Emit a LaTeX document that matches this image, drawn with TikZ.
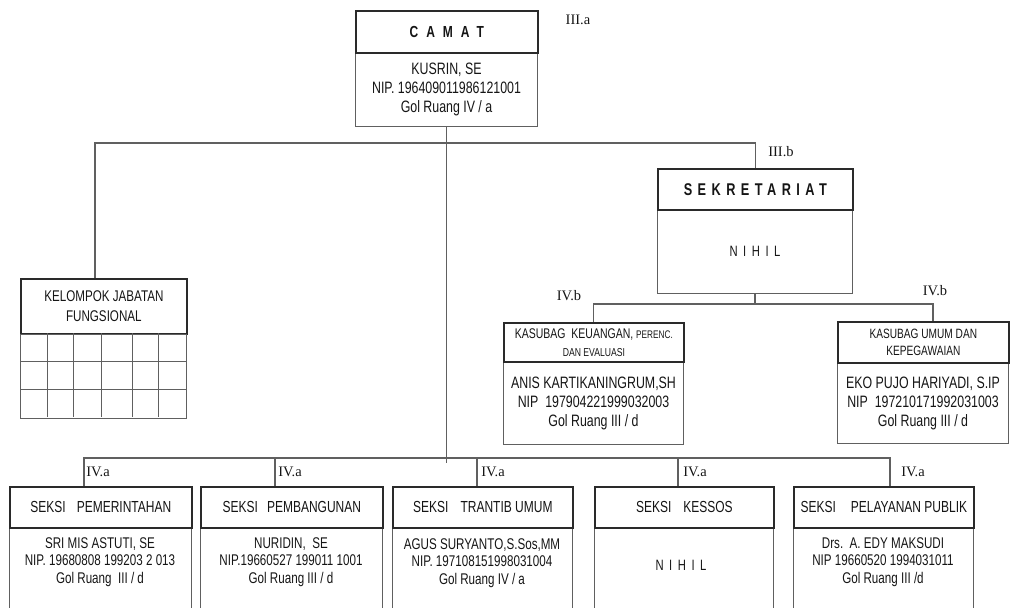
\documentclass[tikz,border=0pt]{standalone}
\usepackage{fontspec}
\setmainfont[FakeStretch=0.75]{Liberation Sans}
\newfontfamily\romfont{Liberation Serif}
\definecolor{ink}{HTML}{151515}
\definecolor{edge}{HTML}{2A2A2A}
\definecolor{soft}{HTML}{606060}
\begin{document}
\begin{tikzpicture}[x=1pt,y=-1pt,
  ttl/.style={draw=edge, line width=1.7pt, inner sep=0pt, anchor=north west, align=center, text=ink},
  cnt/.style={draw=soft, line width=1pt, inner sep=0pt, anchor=north west, align=center, text=ink},
  txt/.style={inner sep=0pt, align=center, text=ink},
  lvl/.style={inner sep=0pt, text=ink, font=\romfont\fontsize{14.5}{16}\selectfont},
  conn/.style={draw=soft, line width=1.1pt},
  gridln/.style={draw=soft, line width=1pt},
  big/.style={font=\fontsize{16.5}{19}\selectfont},
  mid/.style={font=\fontsize{15.5}{17.5}\selectfont},
  tt/.style={font=\fontsize{16}{19}\selectfont}]
\useasboundingbox (0,0) rectangle (1013,608);

% CAMAT
\node[cnt, big, minimum width=182, minimum height=74] (camatC) at (355,52)
  {KUSRIN, SE\\NIP. 196409011986121001\\Gol Ruang IV / a};
\node[ttl, minimum width=182, minimum height=42, font=\bfseries\fontsize{16}{19}\selectfont] (camatT) at (355,10)
  {\addfontfeature{LetterSpace=50}CAMAT};
\node[lvl] (l3a) at (578,20) {III.a};

% SEKRETARIAT
\node[cnt, minimum width=195, minimum height=84, font=\fontsize{15}{18}\selectfont] (sekC) at (657,209)
  {\addfontfeature{LetterSpace=37}NIHIL};
\node[ttl, minimum width=195, minimum height=41, font=\bfseries\fontsize{17}{19}\selectfont] (sekT) at (657,168)
  {\addfontfeature{LetterSpace=32}SEKRETARIAT};
\node[lvl] (l3b) at (781,152) {III.b};

% KELOMPOK JABATAN FUNGSIONAL
\node[ttl, minimum width=166, minimum height=55, font=\fontsize{15.5}{20}\selectfont] (kjfT) at (20,278)
  {KELOMPOK JABATAN\\FUNGSIONAL};
\draw[gridln] (kjfT.south west) rectangle ++(166,84);
\foreach \yy in {361,389} \draw[gridln] (20,\yy) -- (186,\yy);
\foreach \xx in {47,73,101,132,158} \draw[gridln] (\xx,333) -- (\xx,417);

% KASUBAG 1
\node[cnt, minimum width=180, minimum height=83, font=\fontsize{16.5}{19}\selectfont] (k1C) at (503,361)
  {ANIS KARTIKANINGRUM,SH\\NIP\ \ 197904221999032003\\Gol Ruang III / d};
\node[ttl, minimum width=180, minimum height=39, font=\fontsize{14}{18}\selectfont] (k1T) at (503,322)
  {KASUBAG\ \ KEUANGAN, {\fontsize{11}{13}\selectfont PERENC.}\\{\fontsize{11.5}{13}\selectfont DAN EVALUASI}};
\node[lvl] (l4b1) at (569,296) {IV.b};

% KASUBAG 2
\node[cnt, minimum width=171, minimum height=81, font=\fontsize{16.5}{19}\selectfont] (k2C) at (837,362)
  {EKO PUJO HARIYADI, S.IP\\NIP\ \ 197210171992031003\\Gol Ruang III / d};
\node[ttl, minimum width=171, minimum height=41, font=\fontsize{13.5}{16.5}\selectfont] (k2T) at (837,321)
  {KASUBAG UMUM DAN\\KEPEGAWAIAN};
\node[lvl] (l4b2) at (935,291) {IV.b};

% Bottom sections
\node[cnt, minimum width=182, minimum height=92] (b1C) at (9,527) {};
\node[ttl, tt, minimum width=182, minimum height=41] (b1T) at (9,486) {SEKSI\hspace{11pt}PEMERINTAHAN};
\node[txt, mid] (b1t) at (100,562) {SRI MIS ASTUTI, SE\\NIP. 19680808 199203 2 013\\Gol Ruang\ \ III / d};

\node[cnt, minimum width=182, minimum height=92] (b2C) at (200,527) {};
\node[ttl, tt, minimum width=182, minimum height=41] (b2T) at (200,486) {SEKSI\hspace{9pt}PEMBANGUNAN};
\node[txt, mid] (b2t) at (291,562) {NURIDIN,\ \ SE\\NIP.19660527 199011 1001\\Gol Ruang III / d};

\node[cnt, minimum width=180, minimum height=92] (b3C) at (392,527) {};
\node[ttl, tt, minimum width=180, minimum height=41] (b3T) at (392,486) {SEKSI\hspace{12pt}TRANTIB UMUM};
\node[txt, mid] (b3t) at (482,563) {AGUS SURYANTO,S.Sos,MM\\NIP. 197108151998031004\\Gol Ruang IV / a};

\node[cnt, minimum width=179, minimum height=92] (b4C) at (594,527) {};
\node[ttl, tt, minimum width=179, minimum height=41] (b4T) at (594,486) {SEKSI\hspace{12pt}KESSOS};
\node[txt, font=\fontsize{15}{18}\selectfont] (b4t) at (681,565) {\addfontfeature{LetterSpace=37}NIHIL};

\node[cnt, minimum width=180, minimum height=92] (b5C) at (793,527) {};
\node[ttl, tt, minimum width=180, minimum height=41] (b5T) at (793,486) {SEKSI\hspace{15pt}PELAYANAN PUBLIK};
\node[txt, mid] (b5t) at (883,562) {Drs.\ \ A. EDY MAKSUDI\\NIP 19660520 1994031011\\Gol Ruang III /d};

\foreach \n/\xx in {1/98,2/290,3/493,4/695,5/913}
  \node[lvl] (l4a\n) at (\xx,472) {IV.a};

% connector points
\coordinate (topbus) at (445,143);
\coordinate (kjfdrop) at (95,278);
\coordinate (midbus) at (752,304);
\coordinate (k2drop) at (933,321);
\coordinate (botbus) at (445,458);
\coordinate (stemend) at (445,463);
\coordinate (d1) at (84,486);
\coordinate (d2) at (275,486);
\coordinate (d3) at (477,486);
\coordinate (d4) at (678,486);
\coordinate (d5) at (890,486);

\draw[conn] (camatC.south) -- (camatC.south |- stemend);
\draw[conn] (kjfdrop) -- (kjfdrop |- topbus) -- (sekT.north |- topbus) -- (sekT.north);
\draw[conn] (sekC.south) -- (sekC.south |- midbus);
\draw[conn] (k1T.north) -- (k1T.north |- midbus) -- (k2drop |- midbus) -- (k2drop);
\draw[conn] (d1) -- (d1 |- botbus) -- (d5 |- botbus) -- (d5);
\foreach \d in {d2,d3,d4} \draw[conn] (\d) -- (\d |- botbus);
\end{tikzpicture}
\end{document}
